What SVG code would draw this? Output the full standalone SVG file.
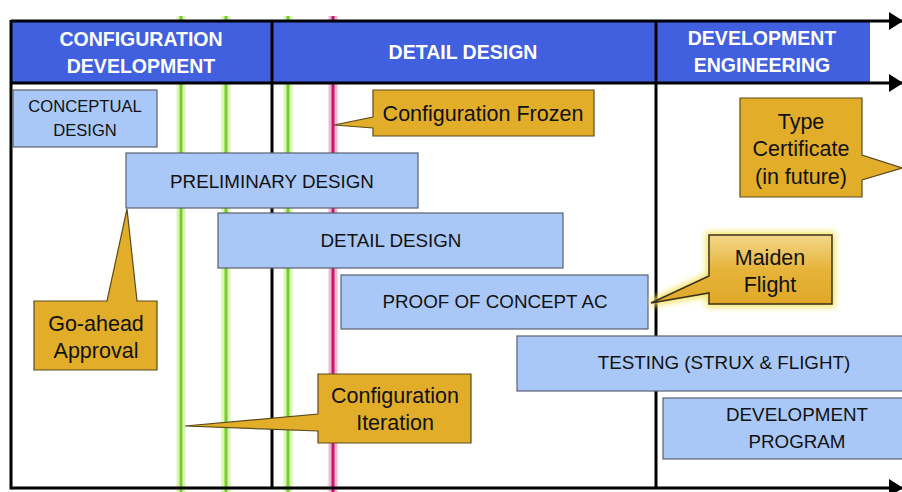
<svg xmlns="http://www.w3.org/2000/svg" width="902" height="492" viewBox="0 0 902 492">
<style>
.t{font-family:"Liberation Sans",Arial,sans-serif;fill:#111;text-anchor:middle}
.b{font-size:18.8px}
.c{font-size:21.5px}
.h{font-family:"Liberation Sans",Arial,sans-serif;fill:#fff;font-weight:bold;font-size:19.5px;text-anchor:middle}
.bx{fill:#A9C8F8;stroke:#5a6070;stroke-width:1.2}
.cl{fill:#E2AE2A;stroke:#5a4a1e;stroke-width:1.2}
.fr{stroke:#000;stroke-width:3;fill:none}
.gh{stroke:#d9f5b8;stroke-width:9}
.gc{stroke:#7ccc2c;stroke-width:3}
</style>
<defs>
<marker id="ah" markerWidth="14" markerHeight="18" refX="13" refY="9" orient="auto" markerUnits="userSpaceOnUse">
<path d="M0,0 L14,9 L0,18 Z" fill="#000"/>
</marker>
<linearGradient id="mg" x1="0" y1="0" x2="0" y2="1">
<stop offset="0" stop-color="#F2D78A"/>
<stop offset="0.5" stop-color="#E6B43A"/>
<stop offset="1" stop-color="#E0A828"/>
</linearGradient>
<filter id="glow" x="-20%" y="-20%" width="140%" height="140%">
<feGaussianBlur stdDeviation="3"/>
</filter>
</defs>
<rect width="902" height="492" fill="#fff"/>
<g id="markers">
<line class="gh" x1="181" y1="16" x2="181" y2="492"/>
<line class="gc" x1="181" y1="16" x2="181" y2="492"/>
<line class="gh" x1="226" y1="16" x2="226" y2="492"/>
<line class="gc" x1="226" y1="16" x2="226" y2="492"/>
<line class="gh" x1="288" y1="16" x2="288" y2="492"/>
<line class="gc" x1="288" y1="16" x2="288" y2="492"/>
<line stroke="#f2b6d2" stroke-width="9" x1="333" y1="16" x2="333" y2="492"/>
<line stroke="#c8186e" stroke-width="3" x1="333" y1="16" x2="333" y2="492"/>
</g>
<g id="header">
<rect x="12" y="22" width="858" height="60" fill="#4160DF"/>
<text class="h" x="141" y="46">CONFIGURATION</text>
<text class="h" x="141" y="73">DEVELOPMENT</text>
<text class="h" x="463" y="59">DETAIL DESIGN</text>
<text class="h" x="762" y="45">DEVELOPMENT</text>
<text class="h" x="762" y="72">ENGINEERING</text>
</g>
<g id="connectors">
<line class="fr" x1="11" y1="21" x2="902" y2="21" marker-end="url(#ah)"/>
<line class="fr" x1="11" y1="83" x2="902" y2="83" marker-end="url(#ah)"/>
<line class="fr" x1="11" y1="488" x2="902" y2="488" marker-end="url(#ah)"/>
<line class="fr" x1="11" y1="20" x2="11" y2="489.5"/>
<line class="fr" x1="272" y1="21" x2="272" y2="488"/>
<line class="fr" x1="656" y1="21" x2="656" y2="488"/>
</g>
<g id="conceptual">
<rect class="bx" x="13" y="90" width="144" height="57"/>
<text class="t" x="85" y="112" font-size="16.6">CONCEPTUAL</text>
<text class="t" x="85" y="136" font-size="16.6">DESIGN</text>
</g>
<g id="preliminary">
<rect class="bx" x="126" y="153" width="292" height="55"/>
<text class="t b" x="272" y="188">PRELIMINARY DESIGN</text>
</g>
<g id="detail">
<rect class="bx" x="218" y="213" width="345" height="55"/>
<text class="t b" x="391" y="247">DETAIL DESIGN</text>
</g>
<g id="proof">
<rect class="bx" x="341" y="275" width="307" height="54"/>
<text class="t b" x="495" y="308">PROOF OF CONCEPT AC</text>
</g>
<g id="testing">
<rect class="bx" x="517" y="336" width="390" height="55"/>
<text class="t b" x="724" y="369">TESTING (STRUX &amp; FLIGHT)</text>
</g>
<g id="devprogram">
<rect class="bx" x="663" y="398" width="244" height="61"/>
<text class="t b" x="797" y="421">DEVELOPMENT</text>
<text class="t b" x="797" y="448">PROGRAM</text>
</g>
<g id="frozen">
<path class="cl" d="M373,90 H594 V136 H373 V128 L334,125 L373,117 Z"/>
<text class="t c" x="483" y="121">Configuration Frozen</text>
</g>
<g id="typecert">
<path class="cl" d="M740,98 H862 V155 L902,168 L862,180 V197 H740 Z"/>
<text class="t c" x="801" y="129">Type</text>
<text class="t c" x="801" y="156">Certificate</text>
<text class="t c" x="801" y="184">(in future)</text>
</g>
<g id="maiden">
<path d="M709,235 H832 V304 H709 V293 L651,303 L709,276 Z" fill="#F5E25A" stroke="#F5E25A" stroke-width="6" filter="url(#glow)"/>
<path d="M709,235 H832 V304 H709 V293 L651,303 L709,276 Z" fill="url(#mg)" stroke="#3a3020" stroke-width="1.5"/>
<text class="t c" x="770" y="265">Maiden</text>
<text class="t c" x="770" y="292">Flight</text>
</g>
<g id="goahead">
<path class="cl" d="M34,301 H107 L127,209 L137,301 H157 V370 H34 Z"/>
<text class="t c" x="96" y="331">Go-ahead</text>
<text class="t c" x="96" y="358">Approval</text>
</g>
<g id="iteration">
<path class="cl" d="M318,374 H471 V443 H318 V431 L185,426 L318,414 Z"/>
<text class="t c" x="395" y="403">Configuration</text>
<text class="t c" x="395" y="430">Iteration</text>
</g>
</svg>
